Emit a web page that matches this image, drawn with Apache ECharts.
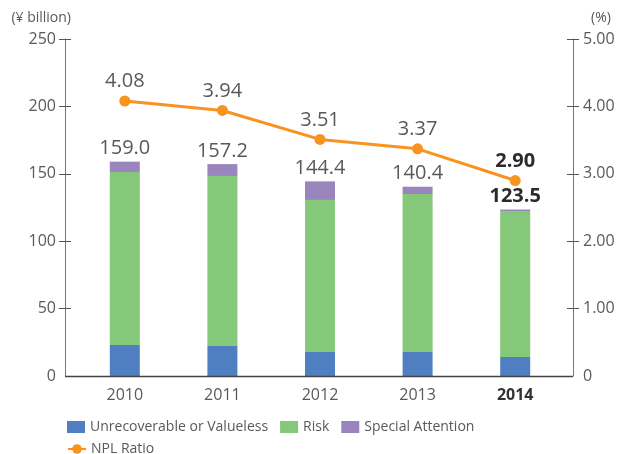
<!DOCTYPE html>
<html>
<head>
<meta charset="utf-8">
<script src="https://cdn.jsdelivr.net/npm/echarts@6/dist/echarts.min.js"></script>
<style>
  html, body { margin: 0; padding: 0; background: #fff; }
  #chart { width: 622px; height: 454px; }
</style>
</head>
<body>
<div id="chart"></div>
<script>
// Non-performing loans by category (¥ billion) and NPL ratio (%)
const years = ['2010', '2011', '2012', '2013', '2014'];
const unrecoverable = [23.0, 22.3, 17.8, 17.8, 14.1];
const risk = [128.3, 126.1, 112.8, 117.2, 108.3];
const specialAttention = [7.7, 8.8, 13.8, 5.4, 1.1];
const nplRatio = [4.08, 3.94, 3.51, 3.37, 2.90];
const leftTicks = [0, 50, 100, 150, 200, 250];
const rightTicks = [0, 1, 2, 3, 4, 5];

const FONT = '"Open Sans", "Noto Sans", sans-serif';
const GREY = '#595959';
const LAST = years.length - 1;

const totals = years.map((_, i) => unrecoverable[i] + risk[i] + specialAttention[i]);

const chart = echarts.init(document.getElementById('chart'), null, { renderer: 'canvas' });

// tick marks cross the axis line everywhere except at the baseline
const leftAxisBase = {
  type: 'value', position: 'left', offset: 11,
  min: leftTicks[0], max: leftTicks[leftTicks.length - 1], interval: leftTicks[1] - leftTicks[0],
  splitLine: { show: false }
};
const rightAxisBase = {
  type: 'value', position: 'right', offset: 9,
  min: rightTicks[0], max: rightTicks[rightTicks.length - 1], interval: rightTicks[1] - rightTicks[0],
  splitLine: { show: false }
};
const tickStyle = { color: '#555', width: 1 };

chart.setOption({
  animation: false,
  textStyle: { fontFamily: FONT },
  grid: { left: 76, right: 58, top: 39, bottom: 78 },
  legend: [
    {
      left: 62, top: 415, itemWidth: 18, itemHeight: 12, itemGap: 12,
      icon: 'rect',
      textStyle: { fontFamily: FONT, fontSize: 14, color: GREY },
      data: ['Unrecoverable or Valueless', 'Risk', 'Special Attention']
    },
    {
      left: 62, top: 437, itemWidth: 18, itemHeight: 12,
      textStyle: { fontFamily: FONT, fontSize: 14, color: GREY },
      data: ['NPL Ratio']
    }
  ],
  xAxis: {
    type: 'category', data: years,
    axisLine: { show: false },
    axisTick: { show: false },
    axisLabel: {
      margin: 11, fontSize: 16, color: GREY, fontFamily: FONT,
      formatter: (v, i) => i === LAST ? '{b|' + v + '}' : v,
      rich: { b: { fontWeight: 'bold', fontSize: 16, color: '#333', fontFamily: FONT } }
    }
  },
  yAxis: [
    Object.assign({}, leftAxisBase, {
      name: '(¥ billion)', nameLocation: 'end', nameGap: 14,
      nameTextStyle: { fontSize: 14, color: GREY, align: 'right', padding: [0, -6, 0, 0], fontFamily: FONT },
      axisLine: { show: true, lineStyle: { color: '#777', width: 1 } },
      axisTick: { show: true, length: 6, lineStyle: tickStyle, customValues: leftTicks.slice(1) },
      axisLabel: { fontSize: 16, color: GREY, margin: 9, fontFamily: FONT }
    }),
    Object.assign({}, rightAxisBase, {
      name: '(%)', nameLocation: 'end', nameGap: 14,
      nameTextStyle: { fontSize: 14, color: GREY, align: 'left', padding: [0, 0, 0, 18], fontFamily: FONT },
      axisLine: { show: true, lineStyle: { color: '#777', width: 1 } },
      axisTick: { show: true, length: 6, lineStyle: tickStyle, customValues: rightTicks.slice(1) },
      axisLabel: {
        fontSize: 16, color: GREY, margin: 10, fontFamily: FONT,
        formatter: v => v === 0 ? '0' : v.toFixed(2)
      }
    }),
    // inner halves of the crossing tick marks
    Object.assign({}, leftAxisBase, {
      axisLine: { show: false },
      axisTick: { show: true, inside: true, length: 6, lineStyle: tickStyle, customValues: leftTicks.slice(1) },
      axisLabel: { show: false }
    }),
    Object.assign({}, rightAxisBase, {
      axisLine: { show: false },
      axisTick: { show: true, inside: true, length: 6, lineStyle: tickStyle, customValues: rightTicks.slice(1) },
      axisLabel: { show: false }
    })
  ],
  graphic: [
    {
      type: 'line', z: 10,
      shape: { x1: 65, y1: 376.5, x2: 573, y2: 376.5 },
      style: { stroke: '#444', lineWidth: 1.6 }
    }
  ],
  series: [
    {
      name: 'Unrecoverable or Valueless', type: 'bar', stack: 'npl', barWidth: 30,
      itemStyle: { color: '#4F7FC1' }, data: unrecoverable
    },
    {
      name: 'Risk', type: 'bar', stack: 'npl', barWidth: 30,
      itemStyle: { color: '#86C879' }, data: risk
    },
    {
      name: 'Special Attention', type: 'bar', stack: 'npl', barWidth: 30,
      itemStyle: { color: '#9B85BD' },
      data: specialAttention.map((v, i) => ({
        value: v,
        label: i === LAST ? { fontWeight: 'bold', color: '#2b2b2b' } : {}
      })),
      label: {
        show: true, position: 'top', distance: 3,
        fontSize: 20, color: GREY, fontFamily: FONT,
        formatter: p => totals[p.dataIndex].toFixed(1)
      }
    },
    {
      name: 'NPL Ratio', type: 'line', yAxisIndex: 1,
      symbol: 'circle', symbolSize: 11,
      lineStyle: { color: '#F7931E', width: 3 },
      itemStyle: { color: '#F7931E' },
      data: nplRatio.map((v, i) => ({
        value: v,
        label: i === LAST ? { fontWeight: 'bold', color: '#2b2b2b' } : {}
      })),
      label: {
        show: true, position: 'top', distance: 4,
        fontSize: 20, color: GREY, fontFamily: FONT,
        formatter: p => p.value.toFixed(2)
      },
      z: 5
    }
  ]
});
</script>
</body>
</html>
